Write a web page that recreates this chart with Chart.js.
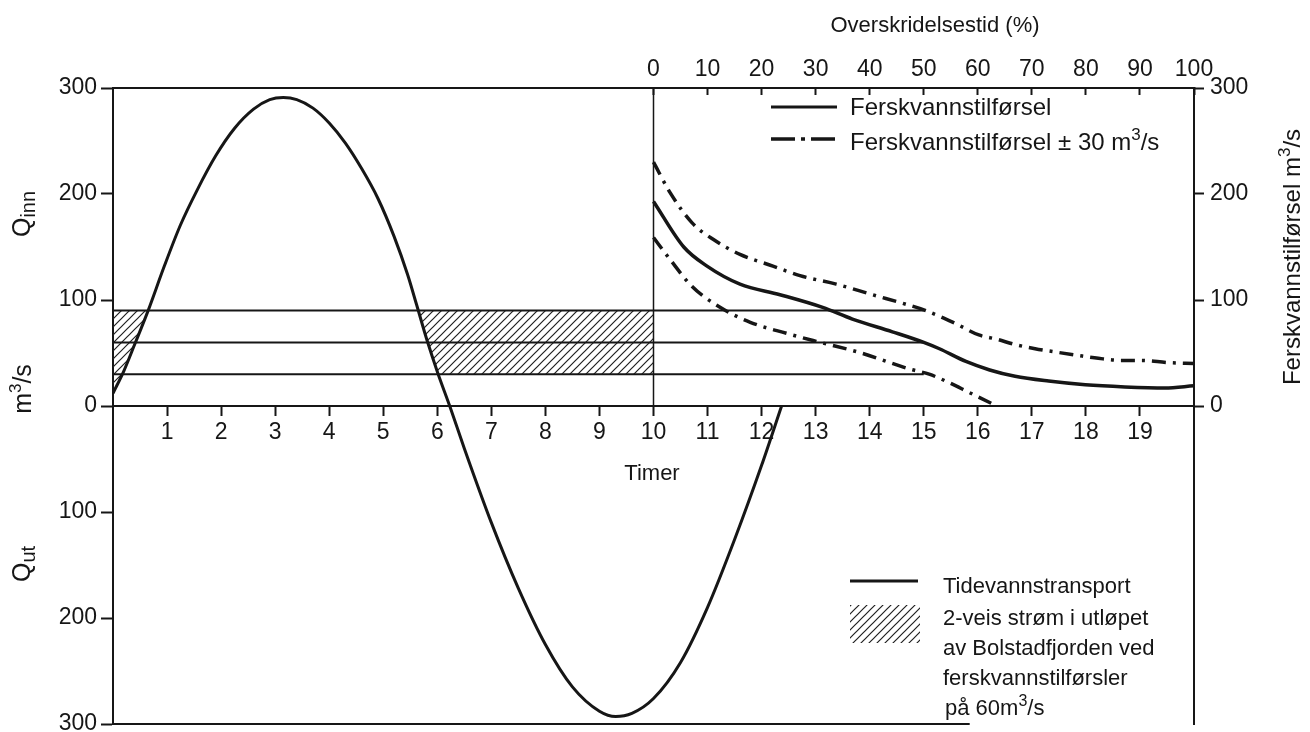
<!DOCTYPE html>
<html>
<head>
<meta charset="utf-8">
<title>Tidevannstransport og ferskvannstilførsel</title>
<script src="https://cdn.jsdelivr.net/npm/chart.js@4.4.1/dist/chart.umd.min.js"></script>
<style>
  html, body { margin: 0; padding: 0; background: #fff; }
  canvas { display: block; }
</style>
</head>
<body>
<canvas id="chart" width="1310" height="732"></canvas>
<script>
/**
 * Tidal transport over one tide (hours) and freshwater duration curves (%)
 */

// tidal transport, m3/s (positive = Qinn, negative = Qut)
const tideHours = [0, 0.2, 0.4, 0.65, 0.95, 1.25, 1.55, 1.9, 2.25, 2.6, 2.9, 3.15, 3.4, 3.7, 4.0, 4.3, 4.6, 4.9, 5.2, 5.45, 5.62, 5.81, 6.01, 6.23, 6.5, 7.0, 7.5, 8.0, 8.5, 9.0, 9.3, 9.6, 10.0, 10.5, 11.0, 11.5, 12.0, 12.37]
const tideFlow = [12, 33, 58, 90, 132, 171, 203, 236, 262, 280, 289, 291, 289, 281, 267, 248, 224, 196, 160, 124, 95, 62, 31, 0, -40, -110, -172, -225, -265, -288, -293, -290, -276, -242, -190, -126, -56, 0]

// freshwater inflow duration curve (exceedance time %)
const freshPct = [0, 5.6, 9.9, 16, 23.4, 31.3, 36.8, 44.2, 50, 52.9, 57.8, 62.2, 66.9, 73.1, 79.9, 87.2, 94.6, 100]
const freshFlow = [193, 150, 132, 115, 105, 93, 82, 70, 60, 54, 42, 34, 28, 23.5, 20, 18, 17, 19]

// freshwater inflow + 30 m3/s
const freshHighPct = [0, 3.1, 7.1, 11.1, 16, 22.1, 27.1, 33.8, 40.5, 46.7, 50.4, 54.1, 56.2, 60.2, 63.5, 66.9, 70.6, 74.3, 78.2, 82.3, 86.6, 90.2, 95.2, 100]
const freshHighFlow = [230, 201, 173, 157, 143, 132, 123, 115, 105, 96, 90, 82, 77, 67, 63, 58, 54, 51, 48, 45, 43, 43, 41, 40]

// freshwater inflow - 30 m3/s
const freshLowPct = [0, 3.1, 7.1, 11.7, 17.9, 24.6, 30.1, 38.1, 47.3, 51, 54.7, 58.3, 63.5]
const freshLowFlow = [159, 138, 113, 95, 79, 68.6, 61, 50.5, 35, 30, 22, 13, 0]

// 60 +/- 30 m3/s levels, drawn out to the 50 % point
const levelFlows = [90, 60, 30]
const levelEndHour = 15

// two-way current band
const hatchTopFlow = 90
const hatchBottomFlow = 30
const hatchEndHour = 10

// lower frame line, only drawn part of the way
const frameFlow = -300
const frameEndHour = 15.85

const hourTicks = [1, 2, 3, 4, 5, 6, 7, 8, 9, 10, 11, 12, 13, 14, 15, 16, 17, 18, 19]
const pctTicks = [0, 10, 20, 30, 40, 50, 60, 70, 80, 90, 100]
const leftTicks = [-300, -200, -100, 0, 100, 200, 300]
const rightTicks = [0, 100, 200, 300]

const INK = '#161616'
const FONT = '"Liberation Sans", Arial, Helvetica, sans-serif'
const DASH_DOT = [14, 7, 3, 7]

Chart.defaults.font.family = FONT
Chart.defaults.color = INK

const pts = (xs, ys) => xs.map((x, i) => ({x: x, y: ys[i]}))

// part of a polyline between two flow levels, with the crossing points added
function cut (line, lo, hi) {
  const out = []
  for (let i = 0; i < line.length; i++) {
    const a = line[i]
    const b = line[i + 1]
    if (a.y >= lo && a.y <= hi) out.push(a)
    if (!b) break
    for (const lvl of [lo, hi]) {
      if ((a.y - lvl) * (b.y - lvl) < 0) {
        out.push({x: a.x + (lvl - a.y) / (b.y - a.y) * (b.x - a.x), y: lvl})
      }
    }
  }
  return out.sort((p, q) => p.x - q.x)
}

const tide = pts(tideHours, tideFlow)
const peak = tideFlow.indexOf(Math.max(...tideFlow))
const firstNeg = tideFlow.findIndex(v => v < 0)
const rising = tide.slice(0, peak + 1)
const falling = tide.slice(peak, firstNeg)

const hatchRise = [{x: 0, y: hatchTopFlow}].concat(cut(rising, -Infinity, hatchTopFlow))
const hatchFall = cut(falling, hatchBottomFlow, hatchTopFlow).concat([
  {x: hatchEndHour, y: hatchBottomFlow},
  {x: hatchEndHour, y: hatchTopFlow}
])

const canvas = document.getElementById('chart')
const ctx = canvas.getContext('2d')

function hatchPattern () {
  const s = 8
  const c = document.createElement('canvas')
  c.width = s
  c.height = s
  const g = c.getContext('2d')
  g.strokeStyle = '#202020'
  g.lineWidth = 1.2
  g.beginPath()
  g.moveTo(0, s); g.lineTo(s, 0)
  g.moveTo(-1, 1); g.lineTo(1, -1)
  g.moveTo(s - 1, s + 1); g.lineTo(s + 1, s - 1)
  g.stroke()
  return ctx.createPattern(c, 'repeat')
}
const hatch = hatchPattern()

function noPad (scale) {
  scale.paddingTop = scale.paddingBottom = scale.paddingLeft = scale.paddingRight = 0
}
function fixSize (size) {
  return scale => {
    if (scale.isHorizontal()) scale.height = size
    else scale.width = size
    noPad(scale)
  }
}
const useTicks = list => axis => { axis.ticks = list.map(v => ({value: v})) }

// text made of runs: [text, size, baseline shift]
function drawRuns (c, runs, x, y, angle, align) {
  c.save()
  c.translate(x, y)
  c.rotate(angle)
  c.textBaseline = 'alphabetic'
  c.fillStyle = INK
  let w = 0
  for (const r of runs) {
    c.font = r[1] + 'px ' + FONT
    w += c.measureText(r[0]).width
  }
  let cx = align === 'center' ? -w / 2 : 0
  const base = runs[0][1] * 0.36
  for (const r of runs) {
    c.font = r[1] + 'px ' + FONT
    c.fillText(r[0], cx, base + (r[2] || 0))
    cx += c.measureText(r[0]).width
  }
  c.restore()
}

function sampleLine (c, x1, x2, y, width, dash) {
  c.save()
  c.strokeStyle = INK
  c.lineWidth = width
  c.setLineDash(dash || [])
  c.beginPath()
  c.moveTo(x1, y)
  c.lineTo(x2, y)
  c.stroke()
  c.restore()
}

const textPlugin = {
  id: 'texts',
  afterDraw (chart) {
    const c = chart.ctx
    const up = -Math.PI / 2
    drawRuns(c, [['Q', 25], ['inn', 20, 5]], 21, 214, up, 'center')
    drawRuns(c, [['m', 25], ['3', 17, -10], ['/s', 25]], 22, 389, up, 'center')
    drawRuns(c, [['Q', 25], ['ut', 20, 5]], 21, 564, up, 'center')
    drawRuns(c, [['Ferskvannstilførsel m', 24], ['3', 17, -10], ['/s', 24]], 1291, 257, up, 'center')
    drawRuns(c, [['Overskridelsestid (%)', 22]], 935, 24, 0, 'center')
    drawRuns(c, [['Timer', 22]], 652, 472, 0, 'center')

    // legend, freshwater
    sampleLine(c, 771, 837, 107, 3)
    drawRuns(c, [['Ferskvannstilførsel', 24]], 850, 106, 0, 'left')
    sampleLine(c, 771, 837, 139, 3.5, [24, 6, 4, 6])
    drawRuns(c, [['Ferskvannstilførsel ± 30 m', 24], ['3', 17, -10], ['/s', 24]], 850, 141, 0, 'left')

    // legend, tide
    sampleLine(c, 850, 918, 581, 3)
    drawRuns(c, [['Tidevannstransport', 22]], 943, 585, 0, 'left')
    c.save()
    c.fillStyle = hatch
    c.fillRect(850, 605, 70, 38)
    c.restore()
    drawRuns(c, [['2-veis strøm i utløpet', 22]], 943, 617, 0, 'left')
    drawRuns(c, [['av Bolstadfjorden ved', 22]], 943, 647, 0, 'left')
    drawRuns(c, [['ferskvannstilførsler', 22]], 943, 677, 0, 'left')
    drawRuns(c, [['på 60m', 22], ['3', 16, -9], ['/s', 22]], 945, 707, 0, 'left')
  }
}

const lineStyle = {
  borderColor: INK,
  pointRadius: 0,
  fill: false,
  borderJoinStyle: 'round'
}

new Chart(canvas, {
  type: 'line',
  data: {
    datasets: [
      Object.assign({}, lineStyle, {
        label: 'Tidevannstransport', data: tide, borderWidth: 3,
        cubicInterpolationMode: 'monotone', xAxisID: 'x', yAxisID: 'y', order: 0
      }),
      Object.assign({}, lineStyle, {
        label: 'Ferskvannstilførsel', data: pts(freshPct, freshFlow), borderWidth: 3.5,
        cubicInterpolationMode: 'monotone', xAxisID: 'xPct', yAxisID: 'yRight', order: 1
      }),
      Object.assign({}, lineStyle, {
        label: 'Ferskvannstilførsel + 30', data: pts(freshHighPct, freshHighFlow), borderWidth: 3.5,
        borderDash: DASH_DOT, cubicInterpolationMode: 'monotone', xAxisID: 'xPct', yAxisID: 'yRight', order: 1
      }),
      Object.assign({}, lineStyle, {
        label: 'Ferskvannstilførsel - 30', data: pts(freshLowPct, freshLowFlow), borderWidth: 3.5,
        borderDash: DASH_DOT, cubicInterpolationMode: 'monotone', xAxisID: 'xPct', yAxisID: 'yRight', order: 1
      }),
      ...levelFlows.map(v => Object.assign({}, lineStyle, {
        label: 'nivå ' + v, data: [{x: 0, y: v}, {x: levelEndHour, y: v}], borderWidth: 2,
        xAxisID: 'x', yAxisID: 'y', order: 2
      })),
      Object.assign({}, lineStyle, {
        label: '0 %', data: [{x: 0, y: 0}, {x: 0, y: 300}], borderWidth: 1.5,
        xAxisID: 'xPct', yAxisID: 'yRight', order: 2
      }),
      Object.assign({}, lineStyle, {
        label: 'ramme', data: [{x: 0, y: frameFlow}, {x: frameEndHour, y: frameFlow}], borderWidth: 2,
        xAxisID: 'x', yAxisID: 'y', order: 2, clip: 4
      }),
      {
        label: '2-veis strøm', data: hatchRise, xAxisID: 'x', yAxisID: 'y',
        fill: 'shape', backgroundColor: hatch, borderWidth: 0, pointRadius: 0, tension: 0, order: 10
      },
      {
        label: '2-veis strøm ', data: hatchFall, xAxisID: 'x', yAxisID: 'y',
        fill: 'shape', backgroundColor: hatch, borderWidth: 0, pointRadius: 0, tension: 0, order: 10
      }
    ]
  },
  options: {
    responsive: false,
    maintainAspectRatio: false,
    devicePixelRatio: 1,
    animation: false,
    events: [],
    layout: { padding: { left: 0, right: 0, top: 0, bottom: 8 } },
    plugins: {
      legend: { display: false },
      tooltip: { enabled: false }
    },
    scales: {
      x: {
        type: 'linear', axis: 'x', position: { y: 0 }, min: 0, max: 20,
        afterBuildTicks: useTicks(hourTicks),
        afterFit: noPad,
        grid: { drawOnChartArea: false, tickLength: 9, tickWidth: 2, tickColor: INK },
        border: { display: true, color: INK, width: 2 },
        ticks: { font: { size: 23 }, padding: 4, color: INK, maxRotation: 0, autoSkip: false }
      },
      xPct: {
        type: 'linear', axis: 'x', position: 'top', min: -100, max: 100,
        afterBuildTicks: useTicks(pctTicks),
        afterFit: fixSize(88),
        grid: { drawOnChartArea: false, tickLength: -7, tickWidth: 2, tickColor: INK },
        border: { display: true, color: INK, width: 2 },
        ticks: { font: { size: 23 }, padding: 12, color: INK, maxRotation: 0, autoSkip: false }
      },
      y: {
        type: 'linear', axis: 'y', position: 'left', min: -300, max: 300,
        afterBuildTicks: useTicks(leftTicks),
        afterFit: fixSize(113),
        grid: { drawOnChartArea: false, tickLength: 12, tickWidth: 2, tickColor: INK },
        border: { display: true, color: INK, width: 2 },
        ticks: { font: { size: 23 }, padding: 4, color: INK, callback: v => Math.abs(v) }
      },
      yRight: {
        type: 'linear', axis: 'y', position: 'right', min: -300, max: 300,
        afterBuildTicks: useTicks(rightTicks),
        afterFit: fixSize(116),
        grid: { drawOnChartArea: false, tickLength: 10, tickWidth: 2, tickColor: INK },
        border: { display: true, color: INK, width: 2 },
        ticks: { font: { size: 23 }, padding: 6, color: INK }
      }
    }
  },
  plugins: [textPlugin]
})
</script>
</body>
</html>
